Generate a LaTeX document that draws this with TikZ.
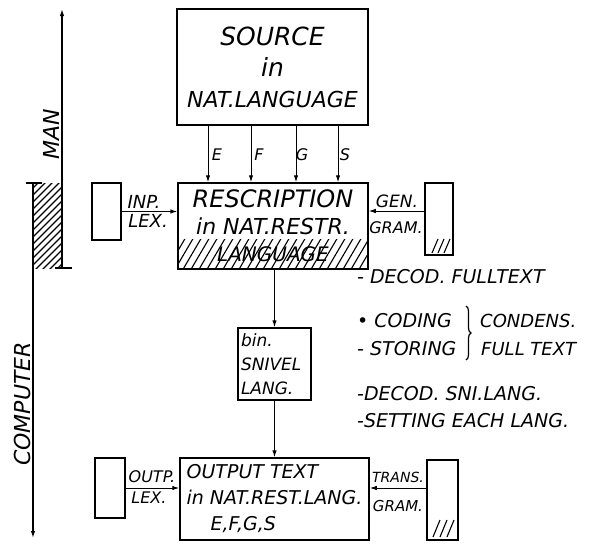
\documentclass[tikz,border=0pt]{standalone}
\usepackage{fontspec}
\setmainfont{DejaVu Sans}
\usetikzlibrary{arrows.meta,decorations.pathreplacing}
\begin{document}
\begin{tikzpicture}[x=1pt,y=-1pt,
  box/.style={draw, line width=1.5pt, inner sep=0pt, anchor=center},
  arr/.style={line width=1pt, -{Latex[length=7pt,width=4.5pt]}},
  hw/.style={font=\itshape\fontsize{#1}{#1}\selectfont, inner sep=0pt},
  hatch/.style={line width=1.1pt},
  axis/.style={line width=1.3pt}]
\useasboundingbox (0,0) rectangle (590,547);

% main boxes
\node[box, minimum width=191pt, minimum height=116pt, align=center,
      font=\itshape\fontsize{22}{31}\selectfont] (src) at (272.5,67)
  {{\fontsize{25}{31}\selectfont SOURCE}\\{\fontsize{25}{31}\selectfont in}\\NAT.LANGUAGE};

% hatch of rescription box
\begin{scope}
  \clip (178,239) rectangle (368,269);
  \foreach \i in {150,158,...,370} \draw[hatch] (\i,271) -- (\i+20,237);
\end{scope}
\node[box, minimum width=190pt, minimum height=86pt, align=center,
      font=\itshape\fontsize{22}{27}\selectfont] (resc) at (273,226)
  {{\fontsize{24}{27}\selectfont RESCRIPTION}\\in NAT.RESTR.\\{\fontsize{20}{27}\selectfont LANGUAGE}};

\node[box, minimum width=73pt, minimum height=72pt, text width=67pt, align=left,
      font=\itshape\fontsize{17}{24}\selectfont] (bin) at (274.5,364)
  {bin.\\SNIVEL\\LANG.};

\node[box, minimum width=189pt, minimum height=82pt, align=left,
      font=\itshape\fontsize{19}{26}\selectfont] (out) at (274.5,499)
  {OUTPUT TEXT\\in NAT.REST.LANG.\\\hspace*{24pt}E,F,G,S};

% side boxes
\node[box, minimum width=29pt, minimum height=57pt] (inp) at (106.5,211.5) {};
\node[box, minimum width=28pt, minimum height=72pt] (gen) at (439,219) {};
\draw[hatch] (432,253) -- (438,239) (438,253) -- (444,239) (444,253) -- (450,239);
\node[box, minimum width=30pt, minimum height=60pt] (outp) at (110,488) {};
\node[box, minimum width=31pt, minimum height=80pt] (trans) at (442.5,500) {};
\draw[hatch] (433,537) -- (440,520) (440,537) -- (447,520) (447,537) -- (454,520);

% language connectors
\coordinate (xE) at (208,0);
\coordinate (xF) at (251,0);
\coordinate (xG) at (296,0);
\coordinate (xS) at (338,0);
\foreach \c in {xE,xF,xG,xS} \draw[arr] (src.south -| \c) -- (resc.north -| \c);
\node[hw=16] (lE) at (217,155) {E};
\node[hw=16] (lF) at (259,155) {F};
\node[hw=16] (lG) at (302,155) {G};
\node[hw=16] (lS) at (345,155) {S};

% horizontal connectors
\draw[arr] (inp.east) -- (inp.east -| resc.west);
\node[hw=18] (linp) at (144,202) {INP.};
\node[hw=18] (llex1) at (148,221) {LEX.};
\coordinate (gy) at (0,211);
\draw[arr] (gen.west |- gy) -- (resc.east |- gy);
\node[hw=17] (lgen) at (397,201) {GEN.};
\node[hw=16] (lgram1) at (396,228) {GRAM.};

\draw[arr] (outp.east) -- (outp.east -| out.west);
\node[hw=16] (loutp) at (152,477) {OUTP.};
\node[hw=16] (llex2) at (149,498) {LEX.};
\draw[arr] (trans.west |- outp.east) -- (out.east |- outp.east);
\node[hw=14] (ltrans) at (398,477) {TRANS.};
\node[hw=15] (lgram2) at (398,506) {GRAM.};

% vertical flow
\draw[arr] (resc.south -| bin.north) -- (bin.north);
\draw[arr] (bin.south) -- (out.north -| bin.south);

% notes
\node[hw=19, anchor=base west] (n1) at (357,283) {- DECOD. FULLTEXT};
\node[hw=19, anchor=base west] (n2) at (357,327) {• CODING};
\node[hw=19, anchor=base west] (n3) at (357,355) {- STORING};
\draw[line width=1.2pt, decorate, decoration={brace, amplitude=5pt}] (466,306) -- (466,360);
\node[hw=18, anchor=base west] (n4) at (480,327) {CONDENS.};
\node[hw=18, anchor=base west] (n5) at (481,355) {FULL TEXT};
\node[hw=19, anchor=base west] (n6) at (357,400) {-DECOD. SNI.LANG.};
\node[hw=19, anchor=base west] (n7) at (357,427) {-SETTING EACH LANG.};

% man / computer axis
\begin{scope}
  \clip (33,183) rectangle (62,268);
  \foreach \i in {-100,-93,...,70} \draw[hatch] (\i,272) -- (\i+95,177);
\end{scope}
\coordinate (manbot) at (62,268);
\coordinate (mantop) at (62,9);
\coordinate (comptop) at (33,183);
\coordinate (compbot) at (33,538);
\draw[axis, -{Latex[length=7pt,width=4.5pt]}] (manbot) -- (mantop);
\draw[axis, -{Latex[length=7pt,width=4.5pt]}] (comptop) -- (compbot);
\draw[axis] (55,268) -- (72,268);
\draw[axis] (26,183) -- (42,183);
\node[hw=22, rotate=90] (man) at (51,134) {MAN};
\node[hw=22, rotate=90] (comp) at (22,404) {COMPUTER};
\end{tikzpicture}
\end{document}
